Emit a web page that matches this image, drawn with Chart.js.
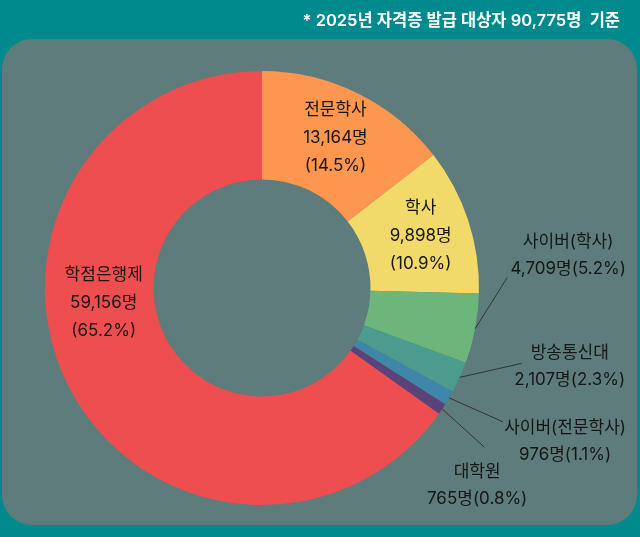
<!DOCTYPE html>
<html lang="ko">
<head>
<meta charset="utf-8">
<script src="https://cdn.jsdelivr.net/npm/chart.js@4/dist/chart.umd.min.js"></script>
<style>
  html, body { margin: 0; padding: 0; background: #008a8e; }
  canvas { display: block; }
</style>
</head>
<body>
<canvas id="myChart" width="640" height="537"></canvas>
<script>
// chart values
var categories = ['전문학사', '학사', '사이버(학사)', '방송통신대', '사이버(전문학사)', '대학원', '학점은행제'];
var counts = [13164, 9898, 4709, 2107, 976, 765, 59156];
var colors = ['#fd964f', '#f1da69', '#6cb67c', '#4b9c8e', '#3e87a9', '#5b4279', '#ef4e50'];
var titleText = '* 2025년 자격증 발급 대상자 90,775명  기준';

// where each label goes (inside the ring, or outside with a leader line)
var labelLayout = [
  { kind: 'in', r: 167 },
  { kind: 'in', r: 167 },
  { kind: 'out', line: [32, -51], text: [93, -87] },
  { kind: 'out', line: [62, -14], text: [110, -24] },
  { kind: 'out', line: [54, 24], text: [116, 30] },
  { kind: 'out', line: [42, 38], text: [35, 63] },
  { kind: 'in', r: 159, angle: 3.047 }
];

var total = counts.reduce(function (a, b) { return a + b; }, 0);
var fontName = 'Inter, "Noto Sans CJK KR", sans-serif';

function fmt(n) {
  return n.toLocaleString('en-US');
}
function pct(n) {
  return (n / total * 100).toFixed(1) + '%';
}

var backdrop = {
  id: 'backdrop',
  beforeDraw: function (chart) {
    var ctx = chart.ctx;
    ctx.save();
    ctx.fillStyle = '#008a8e';
    ctx.fillRect(0, 0, chart.width, chart.height);
    ctx.fillStyle = '#5e7c7b';
    ctx.beginPath();
    ctx.roundRect(2, 39, 635, 486, 30);
    ctx.fill();
    ctx.fillStyle = '#ffffff';
    ctx.font = '600 16.5px ' + fontName;
    ctx.textAlign = 'right';
    ctx.textBaseline = 'middle';
    ctx.fillText(titleText, 620, 21);
    ctx.restore();
  }
};

var sliceLabels = {
  id: 'sliceLabels',
  afterDatasetsDraw: function (chart) {
    var ctx = chart.ctx;
    var arcs = chart.getDatasetMeta(0).data;
    ctx.save();
    ctx.font = '17px ' + fontName;
    ctx.fillStyle = '#161616';
    ctx.strokeStyle = '#333333';
    ctx.lineWidth = 1;
    ctx.textAlign = 'center';
    ctx.textBaseline = 'middle';
    for (var i = 0; i < arcs.length; i++) {
      var p = arcs[i].getProps(['x', 'y', 'startAngle', 'endAngle', 'outerRadius'], true);
      var mid = (p.startAngle + p.endAngle) / 2;
      var lay = labelLayout[i];
      if (lay.kind === 'in') {
        var a = lay.angle !== undefined ? lay.angle : mid;
        var cx = p.x + lay.r * Math.cos(a);
        var cy = p.y + lay.r * Math.sin(a);
        ctx.fillText(categories[i], cx, cy - 28);
        ctx.fillText(fmt(counts[i]) + '명', cx, cy);
        ctx.fillText('(' + pct(counts[i]) + ')', cx, cy + 28);
      } else {
        var ax = p.x + p.outerRadius * Math.cos(mid);
        var ay = p.y + p.outerRadius * Math.sin(mid);
        ctx.beginPath();
        ctx.moveTo(ax, ay);
        ctx.lineTo(ax + lay.line[0], ay + lay.line[1]);
        ctx.stroke();
        var tx = ax + lay.text[0];
        var ty = ay + lay.text[1];
        ctx.fillText(categories[i], tx, ty);
        ctx.fillText(fmt(counts[i]) + '명(' + pct(counts[i]) + ')', tx, ty + 27);
      }
    }
    ctx.restore();
  }
};

new Chart(document.getElementById('myChart').getContext('2d'), {
  type: 'doughnut',
  data: {
    labels: categories,
    datasets: [{
      data: counts,
      backgroundColor: colors,
      borderWidth: 0
    }]
  },
  options: {
    responsive: false,
    animation: false,
    cutout: '50%',
    layout: {
      padding: { top: 71, bottom: 32, left: 45, right: 161 }
    },
    plugins: {
      legend: { display: false },
      tooltip: { enabled: false }
    },
    events: []
  },
  plugins: [backdrop, sliceLabels]
});
</script>
</body>
</html>
